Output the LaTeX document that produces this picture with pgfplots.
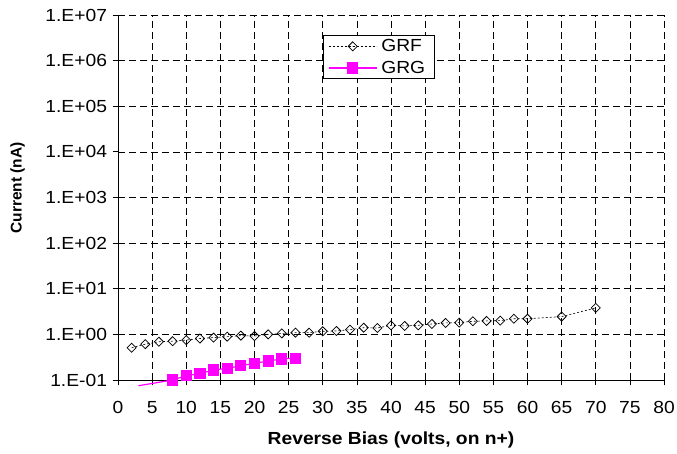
\documentclass[border=0pt]{standalone}
\usepackage{fontspec}
\setmainfont[FakeStretch=1.1]{Liberation Sans}
\newfontfamily\ylfont{Liberation Sans}
\usepackage{pgfplots}
\pgfplotsset{compat=1.18}
\definecolor{grg}{RGB}{255,0,255}
\begin{document}
\begin{tikzpicture}
\path[use as bounding box] (0,0) rectangle (677bp,454bp);
\begin{axis}[
  at={(118bp,74bp)}, anchor=south west,
  scale only axis, width=546bp, height=365bp,
  xmin=0, xmax=80, ymode=log, ymin=0.1, ymax=1e7,
  xtick={0,5,...,80},
  ytick={0.1,1,10,100,1000,10000,100000,1000000,10000000},
  yticklabels={1.E-01,1.E+00,1.E+01,1.E+02,1.E+03,1.E+04,1.E+05,1.E+06,1.E+07},
  yminorticks=false,
  axis x line*=bottom, axis y line*=left,
  axis line style={-, black, line width=0.75bp},
  tick align=outside, major tick length=5.5bp,
  tick style={black, line width=0.75bp},
  grid=major,
  major grid style={black, line width=0.6bp, dash pattern=on 7bp off 4bp},
  tick label style={font=\fontsize{17.5bp}{20bp}\selectfont},
  xticklabel style={/pgf/number format/assume math mode=true, yshift=-12bp},
  yticklabel style={xshift=-2bp},
  xlabel={\bfseries Reverse Bias (volts, on n+)},
  xlabel style={at={(axis description cs:0.5,-0.164)}, anchor=center, font=\fontsize{17.5bp}{20bp}\selectfont},
  ylabel={\ylfont\bfseries Current (nA)},
  ylabel style={at={(axis description cs:-0.184,0.526)}, anchor=center, font=\fontsize{15.5bp}{18bp}\selectfont},
  clip=false,
  legend style={at={(axis description cs:0.375,0.945)}, anchor=north west, draw=black, fill=white, line width=0.75bp,
    font=\fontsize{17.5bp}{20bp}\selectfont, inner xsep=5bp, inner ysep=2bp, row sep=4bp,
    nodes={inner xsep=4bp}, cells={anchor=west}},
  legend image code/.code={\draw[mark repeat=2,mark phase=2,#1] plot coordinates {(0bp,0bp)(24bp,0bp)(48bp,0bp)};},
]
\addplot[black, line width=0.6bp, dash pattern=on 2bp off 2bp, mark=square, mark size=3.2bp,
  mark options={rotate=45, solid, fill=none, line width=0.75bp}] coordinates {
(2,0.51)(4,0.61)(6,0.69)(8,0.71)(10,0.75)(12,0.81)(14,0.85)(16,0.89)(18,0.94)(20,0.92)
(22,1.0)(24,1.05)(26,1.09)(28,1.09)(30,1.17)(32,1.19)(34,1.27)(36,1.40)(38,1.38)(40,1.58)
(42,1.53)(44,1.58)(46,1.69)(48,1.78)(50,1.81)(52,1.94)(54,1.97)(56,2.0)(58,2.2)(60,2.2)
(65,2.45)(70,3.8)};
\addlegendentry{GRF}
\addplot[grg, line width=1.2bp, forget plot] coordinates {(3,0.075)(8,0.100)};
\addplot[grg, line width=1.2bp, mark=square*, mark size=5bp,
  mark options={fill=grg, draw=grg}] coordinates {
(8,0.100)(10,0.124)(12,0.138)(14,0.166)(16,0.18)(18,0.205)(20,0.233)(22,0.26)(24,0.29)(26,0.30)};
\addlegendentry{GRG}
\end{axis}
\end{tikzpicture}
\end{document}
